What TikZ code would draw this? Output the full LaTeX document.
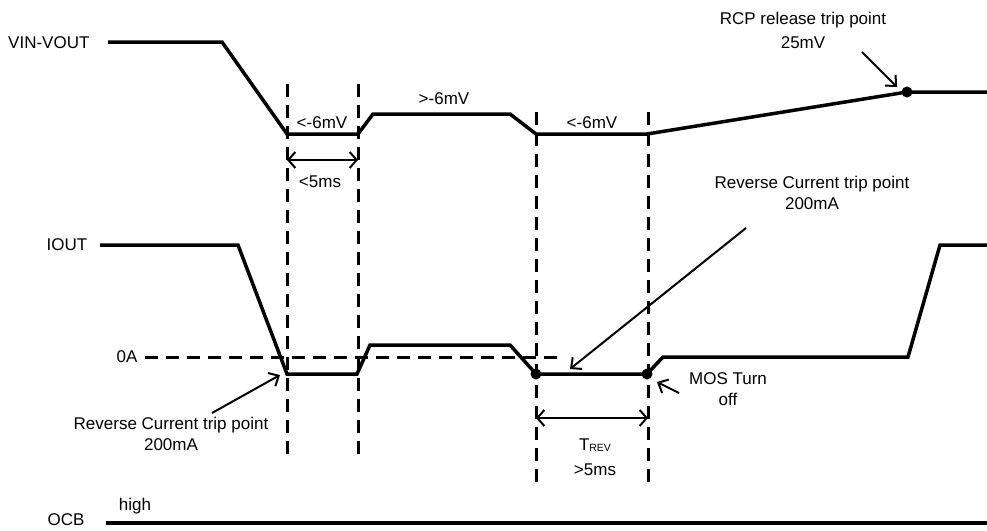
\documentclass[tikz,border=0pt]{standalone}
\usepackage{fontspec}
\setmainfont{Liberation Sans}
\usetikzlibrary{arrows.meta}
\tikzset{
	sig/.style={line width=3.5pt},
	guide/.style={line width=3pt, dash pattern=on 13pt off 8pt},
	callout/.style={line width=2pt, -{Straight Barb[length=8pt,width=15pt]}},
	span/.style={line width=2pt, {Straight Barb[length=7pt,width=16pt]}-{Straight Barb[length=7pt,width=16pt]}},
	lbl/.style={inner sep=0pt, align=center, font=\fontsize{17}{21}\selectfont},
}
\newcommand{\sub}[1]{{\fontsize{10.5}{12}\selectfont\raisebox{-1.5pt}{#1}}}

\begin{document}
\begin{tikzpicture}[x=1pt, y=-1pt]
	\useasboundingbox (0,0) rectangle (987,530);

	\draw[sig] (108,42) -- (222,42) -- (287,134) -- (358,134) -- (373,114) -- (510,114) -- (536,134) -- (647,134) -- (907,92) -- (987,92);
	\draw[sig] (100,245) -- (238,245) -- (287,374) -- (357,374) -- (370,345) -- (510,345) -- (536,374) -- (647,374) -- (663,357) -- (908,357) -- (940,245) -- (987,245);
	\draw[sig] (106,523) -- (987,523);

	\draw[guide] (145,357) -- (562,357);
	\draw[guide] (287,84) -- (287,457);
	\draw[guide] (358,84) -- (358,457);
	\draw[guide] (536,112) -- (536,483);
	\draw[guide] (648,112) -- (648,483);

	\fill (907,92) circle (5.5pt);
	\fill (536,374) circle (5.5pt);
	\fill (647,374) circle (5.5pt);

	\draw[span] (287,160) -- (358,160);
	\draw[span] (536,418) -- (648,418);

	\node[lbl, anchor=west] (vin) at (8,43) {VIN-VOUT};
	\node[lbl] (iout) at (67,245) {IOUT};
	\node[lbl] (zeroA) at (127,357) {0A};
	\node[lbl] (ocb) at (66,520) {OCB};
	\node[lbl] (high) at (135,506) {high};
	\node[lbl] (ltA) at (322,123) {<-6mV};
	\node[lbl] (gtA) at (444,99) {>-6mV};
	\node[lbl] (ltB) at (592,123) {<-6mV};
	\node[lbl] (lt5) at (320,182) {<5ms};
	\node[lbl] (rcp) at (803,30) {RCP release trip point\\[3pt]25mV};
	\node[lbl] (revR) at (812,193) {Reverse Current trip point\\200mA};
	\node[lbl] (revL) at (171,434) {Reverse Current trip point\\200mA};
	\node[lbl] (mos) at (728,389) {MOS Turn\\off};
	\node[lbl] (trev) at (595,445) {T\sub{REV}};
	\node[lbl] (gt5) at (595,470) {>5ms};

	\coordinate (rcpTail) at (862,52);
	\coordinate (rcpTip) at (897,87);
	\coordinate (revRTail) at (746,228);
	\coordinate (revRTip) at (570,369);
	\coordinate (revLTail) at (212,413);
	\coordinate (revLTip) at (280,375);
	\coordinate (mosTail) at (679,393);
	\coordinate (mosTip) at (657,382);
	\draw[callout] (rcpTail) -- (rcpTip);
	\draw[callout] (revRTail) -- (revRTip);
	\draw[callout] (revLTail) -- (revLTip);
	\draw[callout] (mosTail) -- (mosTip);
\end{tikzpicture}
\end{document}
